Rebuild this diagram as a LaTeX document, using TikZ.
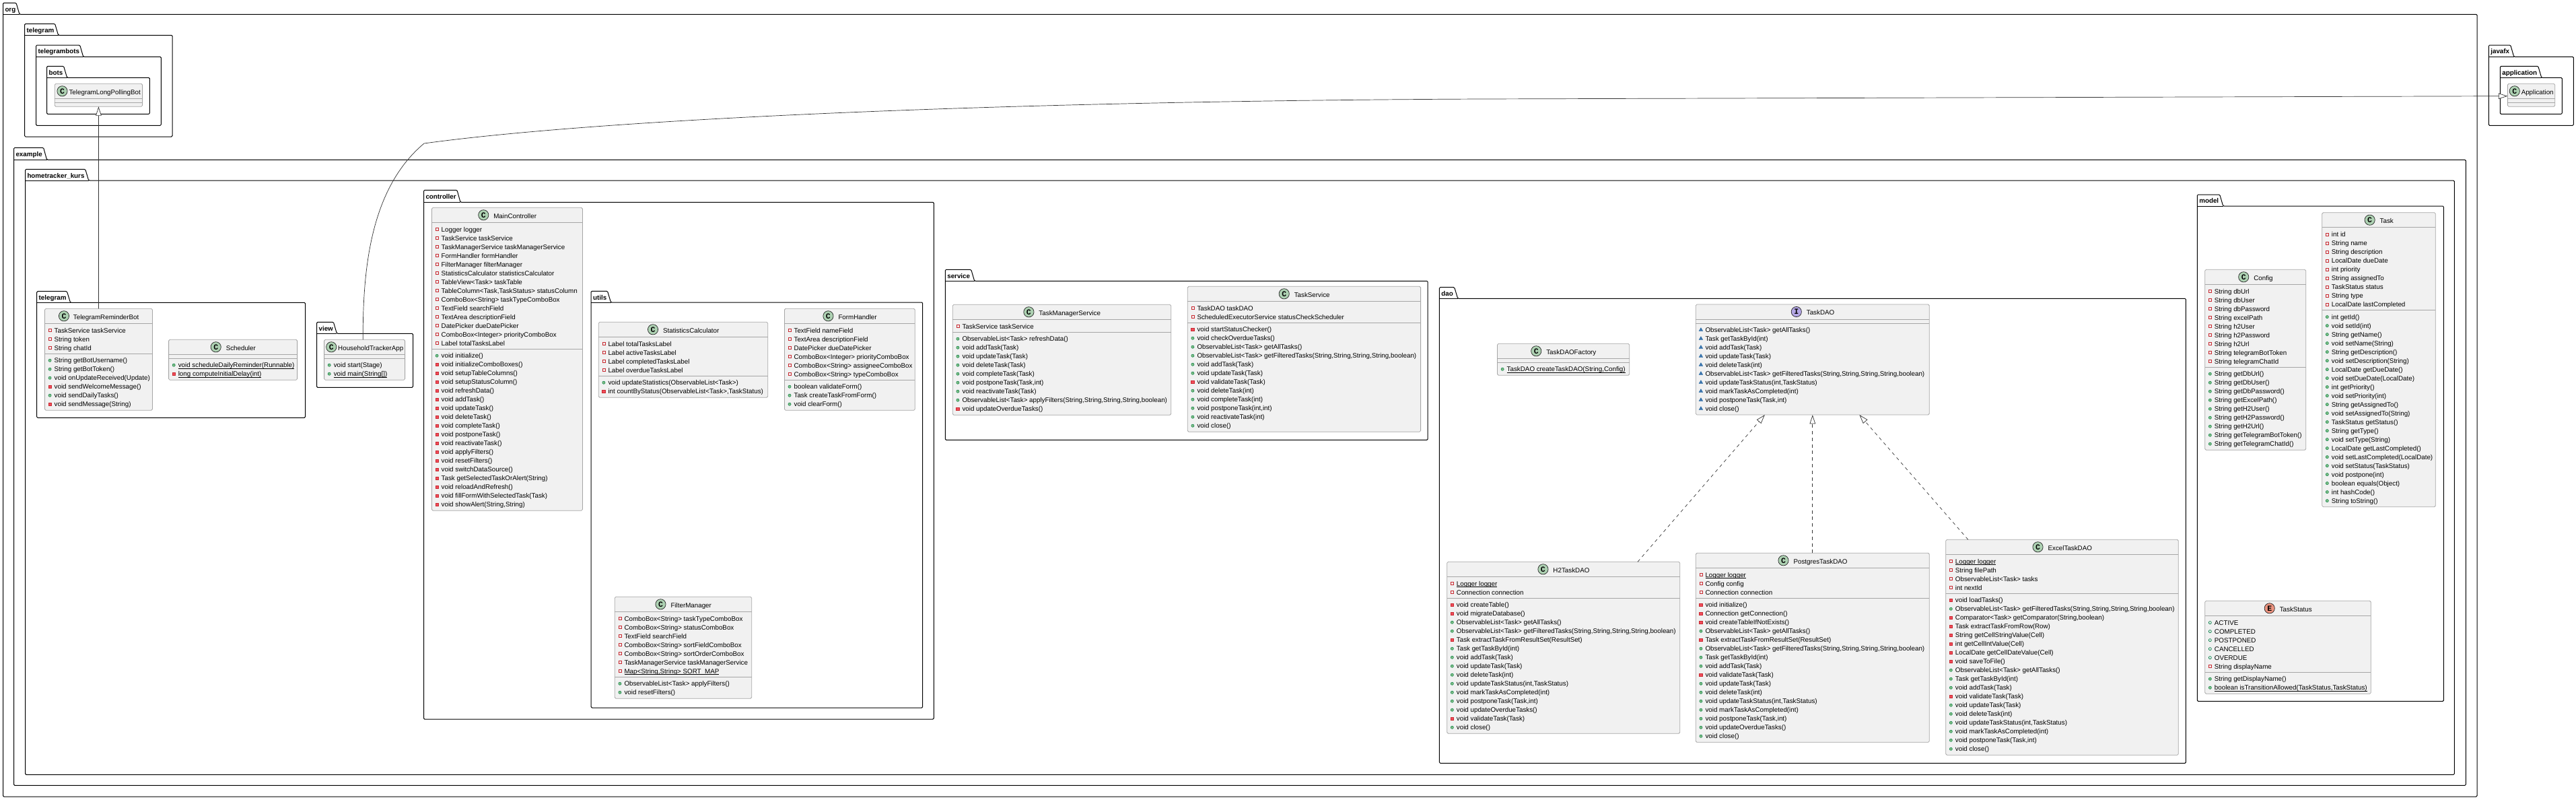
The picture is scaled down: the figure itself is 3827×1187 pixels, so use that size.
\documentclass[tikz,border=0pt]{standalone}
\usepackage{fontspec}
\setmainfont{Liberation Sans}
\newfontfamily\glyphfont{Liberation Mono}
\usepackage{xcolor}
\usetikzlibrary{arrows.meta}
\usetikzlibrary{shapes.geometric}
\definecolor{classfill}{HTML}{F1F1F1}
\definecolor{classline}{HTML}{A6A6A6}
\definecolor{linkline}{HTML}{333333}
\definecolor{privline}{HTML}{C82930}
\definecolor{privfill}{HTML}{F24D5C}
\definecolor{publine}{HTML}{038048}
\definecolor{pubfill}{HTML}{84BE84}
\definecolor{packline}{HTML}{1963A0}
\definecolor{packfill}{HTML}{4177AF}
\definecolor{circleC}{HTML}{ADD1B2}
\definecolor{circleI}{HTML}{B4A7E5}
\definecolor{circleE}{HTML}{EB937F}
\newcommand{\NameFont}{\fontsize{9.8}{13}\selectfont}
\newbox\ClassTitleBox
\newcount\AttrCount
\newcount\MethCount
\newcommand{\Under}[1]{\leavevmode\setbox0=\hbox{#1}\rlap{\vrule height -1.1pt depth 1.7pt width \wd0}\box0}
\newcommand{\RowCount}[2]{\global#1=0 \if\relax\detokenize{#2}\relax\else\foreach \rowkind/\rowtext in {#2}{\global\advance#1 by 1}\fi}
\newcommand{\RowList}[4]{\if\relax\detokenize{#4}\relax\else
  \foreach \rowkind/\rowtext [count=\ii from 0] in {#4}{
    \pgfmathsetmacro\rowy{#3+13*\ii}
    \node[Icon\rowkind] (#1-i\ii) at ({#2+7.6},\rowy) {};
    \node[RowText] (#1-t\ii) at ({#2+14},{\rowy+3.4}) {\rowtext};
  }\fi}
\newcommand{\UmlClass}[8]{
  \RowCount{\AttrCount}{#7}
  \RowCount{\MethCount}{#8}
  \pgfmathsetmacro\boxh{34+13*(\AttrCount+\MethCount)}
  \pgfmathsetmacro\sepa{#3+22}
  \pgfmathsetmacro\sepb{#3+28+13*\AttrCount}
  \node[ClassBox,minimum width={(#4-#2)*1pt},minimum height={\boxh*1pt}] (#1) at ({(#2+#4)/2},{#3+\boxh/2}) {};
  \draw[ClassLine] (#2,\sepa) -- (#4,\sepa);
  \draw[ClassLine] (#2,\sepb) -- (#4,\sepb);
  \pgfinterruptpicture\global\setbox\ClassTitleBox=\hbox{\NameFont #6}\endpgfinterruptpicture
  \pgfmathsetmacro\supp{#4-#2-21-\wd\ClassTitleBox}
  \pgfmathsetmacro\hgap{min(5.25,\supp*0.1)}
  \pgfmathsetmacro\hlead{(\supp-\hgap)/2}
  \node[Circle#5] (#1-c) at ({#2+\hlead+9.8},{#3+11}) {#5};
  \node[RowText] (#1-n) at ({#2+\hlead+21+\hgap-1.6},{#3+15.7}) {#6};
  \RowList{#1-a}{#2}{#3+32.3}{#7}
  \RowList{#1-m}{#2}{\sepb+9.9}{#8}
}
\newcommand{\UmlPackage}[8]{
  \draw[PackageLine] (#3,#5) -- (#3,#4) -- ({#8-5},#4) -- (#8,#5) -- (#6,#5) -- (#6,#7) -- (#3,#7) -- cycle;
  \draw[PackageLine] (#3,#5) -- (#8,#5);
  \node[PackageName] (#1) at ({#3+2.8},{#4+12.8}) {#2};
}
\begin{document}
\begin{tikzpicture}[x=1pt,y=-1pt]
  \tikzset{RowText/.style={anchor=base west,inner sep=0pt,font=\NameFont,text=black}};
  \tikzset{PackageName/.style={anchor=base west,inner sep=0pt,font=\NameFont\bfseries,text=black}};
  \tikzset{PackageLine/.style={draw=black,line width=1pt,rounded corners=1.4pt}};
  \tikzset{ClassBox/.style={rectangle,draw=classline,fill=classfill,line width=0.8pt,rounded corners=1.8pt,inner sep=0pt,outer sep=0pt}};
  \tikzset{ClassLine/.style={draw=classline,line width=0.8pt}};
  \tikzset{CircleBase/.style={circle,draw=black!85,line width=0.7pt,minimum size=15.2pt,inner sep=0pt,font=\glyphfont\bfseries\fontsize{11.5}{12}\selectfont}};
  \tikzset{CircleC/.style={CircleBase,fill=circleC}};
  \tikzset{CircleI/.style={CircleBase,fill=circleI}};
  \tikzset{CircleE/.style={CircleBase,fill=circleE}};
  \tikzset{Iconf/.style={rectangle,draw=privline,line width=0.7pt,minimum size=4pt,inner sep=0pt}};
  \tikzset{Iconm/.style={rectangle,draw=privline,fill=privfill,line width=0.4pt,minimum size=4.6pt,inner sep=0pt}};
  \tikzset{Iconp/.style={circle,draw=publine,fill=pubfill,line width=0.5pt,minimum size=4.2pt,inner sep=0pt}};
  \tikzset{Iconc/.style={circle,draw=publine,line width=0.7pt,minimum size=4pt,inner sep=0pt}};
  \tikzset{Icont/.style={regular polygon,regular polygon sides=3,draw=packline,fill=packfill,line width=0.4pt,minimum size=6.4pt,inner sep=0pt}};
  \tikzset{Extends/.style={draw=linkline,line width=0.7pt,-{Triangle[open,fill=white,length=13.4pt,width=8.6pt]}}};
  \tikzset{Implements/.style={Extends,dash pattern=on 4.9pt off 4.9pt}};
  \useasboundingbox (0,0) rectangle (3827,1187);

  \UmlPackage{orgPack}{org}{4.5}{4.3}{21.3}{3680}{1183}{29}
  \UmlPackage{orgTelegramPack}{telegram}{36.6}{35.3}{52.3}{256}{203}{86.6}
  \UmlPackage{telegrambotsPack}{telegrambots}{53.6}{67}{84.3}{239.3}{186.3}{123.7}
  \UmlPackage{botsPack}{bots}{69.6}{98.3}{115.3}{222.3}{169.3}{99.6}
  \UmlPackage{examplePack}{example}{20.5}{219.3}{237.3}{3663.3}{1166.3}{69.6}
  \UmlPackage{hometrackerPack}{hometracker\_kurs}{37.5}{251.3}{268}{3646.3}{1150.3}{131.7}
  \UmlPackage{telegramPack}{telegram}{54.7}{432.7}{449.3}{453.5}{620.3}{104.5}
  \UmlPackage{viewPack}{view}{470.6}{478.3}{495.3}{613.5}{575.3}{500.4}
  \UmlPackage{controllerPack}{controller}{629.5}{282.3}{300.3}{1387.3}{1068}{684}
  \UmlPackage{utilsPack}{utils}{878.2}{432.3}{449}{1370.7}{1051}{907.5}
  \UmlPackage{servicePack}{service}{1404.3}{400.3}{417.3}{2121.2}{653.3}{1447.7}
  \UmlPackage{daoPack}{dao}{2138.4}{426.7}{443.3}{3247.4}{1133.3}{2165.7}
  \UmlPackage{modelPack}{model}{3264.3}{289}{306}{3630.4}{1041.3}{3302.7}
  \UmlPackage{javafxPack}{javafx}{3697.3}{67}{84.3}{3823.3}{186.3}{3734.7}
  \UmlPackage{applicationPack}{application}{3714.3}{98.3}{115.3}{3806.3}{169.3}{3775.7}

  \UmlClass{TelegramLongPollingBot}{81.3}{124.3}{211.6}{C}{TelegramLongPollingBot}{}{}
  \UmlClass{Application}{3725.3}{124.3}{3795.7}{C}{Application}{}{}
  \UmlClass{TelegramReminderBot}{66.5}{458.3}{226.5}{C}{TelegramReminderBot}
    {f/{TaskService taskService},f/{String token},f/{String chatId}}
    {p/{String getBotUsername()},p/{String getBotToken()},p/{void onUpdateReceived(Update)},m/{void sendWelcomeMessage()},p/{void sendDailyTasks()},m/{void sendMessage(String)}}
  \UmlClass{Scheduler}{250.6}{504.3}{441.6}{C}{Scheduler}{}
    {p/{\Under{void scheduleDailyReminder(Runnable)}},m/{\Under{long computeInitialDelay(int)}}}
  \UmlClass{HouseholdTrackerApp}{481.6}{504.3}{601.6}{C}{HouseholdTrackerApp}{}
    {p/{void start(Stage)},p/{\Under{void main(String[])}}}
  \UmlClass{MainController}{641.5}{308.3}{865.4}{C}{MainController}
    {f/{Logger logger},f/{TaskService taskService},f/{TaskManagerService taskManagerService},f/{FormHandler formHandler},f/{FilterManager filterManager},f/{StatisticsCalculator statisticsCalculator},f/{TableView<Task> taskTable},f/{TableColumn<Task,TaskStatus> statusColumn},f/{ComboBox<String> taskTypeComboBox},f/{TextField searchField},f/{TextArea descriptionField},f/{DatePicker dueDatePicker},f/{ComboBox<Integer> priorityComboBox},f/{Label totalTasksLabel}}
    {p/{void initialize()},m/{void initializeComboBoxes()},m/{void setupTableColumns()},m/{void setupStatusColumn()},m/{void refreshData()},m/{void addTask()},m/{void updateTask()},m/{void deleteTask()},m/{void completeTask()},m/{void postponeTask()},m/{void reactivateTask()},m/{void applyFilters()},m/{void resetFilters()},m/{void switchDataSource()},m/{Task getSelectedTaskOrAlert(String)},m/{void reloadAndRefresh()},m/{void fillFormWithSelectedTask(Task)},m/{void showAlert(String,String)}}
  \UmlClass{StatisticsCalculator}{889.3}{478.3}{1140.7}{C}{StatisticsCalculator}
    {f/{Label totalTasksLabel},f/{Label activeTasksLabel},f/{Label completedTasksLabel},f/{Label overdueTasksLabel}}
    {p/{void updateStatistics(ObservableList<Task>)},m/{int countByStatus(ObservableList<Task>,TaskStatus)}}
  \UmlClass{FormHandler}{1165.4}{458.3}{1359.3}{C}{FormHandler}
    {f/{TextField nameField},f/{TextArea descriptionField},f/{DatePicker dueDatePicker},f/{ComboBox<Integer> priorityComboBox},f/{ComboBox<String> assigneeComboBox},f/{ComboBox<String> typeComboBox}}
    {p/{boolean validateForm()},p/{Task createTaskFromForm()},p/{void clearForm()}}
  \UmlClass{FilterManager}{913.3}{886.3}{1116.7}{C}{FilterManager}
    {f/{ComboBox<String> taskTypeComboBox},f/{ComboBox<String> statusComboBox},f/{TextField searchField},f/{ComboBox<String> sortFieldComboBox},f/{ComboBox<String> sortOrderComboBox},f/{TaskManagerService taskManagerService},f/{\Under{Map<String,String> SORT\_MAP}}}
    {p/{ObservableList<Task> applyFilters()},p/{void resetFilters()}}
  \UmlClass{TaskManagerService}{1415.3}{452.3}{1739.7}{C}{TaskManagerService}
    {f/{TaskService taskService}}
    {p/{ObservableList<Task> refreshData()},p/{void addTask(Task)},p/{void updateTask(Task)},p/{void deleteTask(Task)},p/{void completeTask(Task)},p/{void postponeTask(Task,int)},p/{void reactivateTask(Task)},p/{ObservableList<Task> applyFilters(String,String,String,String,boolean)},m/{void updateOverdueTasks()}}
  \UmlClass{TaskService}{1764.3}{425.3}{2110.6}{C}{TaskService}
    {f/{TaskDAO taskDAO},f/{ScheduledExecutorService statusCheckScheduler}}
    {m/{void startStatusChecker()},p/{void checkOverdueTasks()},p/{ObservableList<Task> getAllTasks()},p/{ObservableList<Task> getFilteredTasks(String,String,String,String,boolean)},p/{void addTask(Task)},p/{void updateTask(Task)},m/{void validateTask(Task)},p/{void deleteTask(int)},p/{void completeTask(int)},p/{void postponeTask(int,int)},p/{void reactivateTask(int)},p/{void close()}}
  \UmlClass{TaskDAOFactory}{2224.5}{510.3}{2420.7}{C}{TaskDAOFactory}{}
    {p/{\Under{TaskDAO createTaskDAO(String,Config)}}}
  \UmlClass{TaskDAO}{2519.3}{452}{2866.3}{I}{TaskDAO}{}
    {t/{ObservableList<Task> getAllTasks()},t/{Task getTaskById(int)},t/{void addTask(Task)},t/{void updateTask(Task)},t/{void deleteTask(int)},t/{ObservableList<Task> getFilteredTasks(String,String,String,String,boolean)},t/{void updateTaskStatus(int,TaskStatus)},t/{void markTaskAsCompleted(int)},t/{void postponeTask(Task,int)},t/{void close()}}
  \UmlClass{H2TaskDAO}{2149.7}{834.3}{2495.7}{C}{H2TaskDAO}
    {f/{\Under{Logger logger}},f/{Connection connection}}
    {m/{void createTable()},m/{void migrateDatabase()},p/{ObservableList<Task> getAllTasks()},p/{ObservableList<Task> getFilteredTasks(String,String,String,String,boolean)},m/{Task extractTaskFromResultSet(ResultSet)},p/{Task getTaskById(int)},p/{void addTask(Task)},p/{void updateTask(Task)},p/{void deleteTask(int)},p/{void updateTaskStatus(int,TaskStatus)},p/{void markTaskAsCompleted(int)},p/{void postponeTask(Task,int)},p/{void updateOverdueTasks()},m/{void validateTask(Task)},p/{void close()}}
  \UmlClass{PostgresTaskDAO}{2519.3}{821.3}{2866.3}{C}{PostgresTaskDAO}
    {f/{\Under{Logger logger}},f/{Config config},f/{Connection connection}}
    {m/{void initialize()},m/{Connection getConnection()},m/{void createTableIfNotExists()},p/{ObservableList<Task> getAllTasks()},m/{Task extractTaskFromResultSet(ResultSet)},p/{ObservableList<Task> getFilteredTasks(String,String,String,String,boolean)},p/{Task getTaskById(int)},p/{void addTask(Task)},m/{void validateTask(Task)},p/{void updateTask(Task)},p/{void deleteTask(int)},p/{void updateTaskStatus(int,TaskStatus)},p/{void markTaskAsCompleted(int)},p/{void postponeTask(Task,int)},p/{void updateOverdueTasks()},p/{void close()}}
  \UmlClass{ExcelTaskDAO}{2890.7}{801.3}{3236.3}{C}{ExcelTaskDAO}
    {f/{\Under{Logger logger}},f/{String filePath},f/{ObservableList<Task> tasks},f/{int nextId}}
    {m/{void loadTasks()},p/{ObservableList<Task> getFilteredTasks(String,String,String,String,boolean)},m/{Comparator<Task> getComparator(String,boolean)},m/{Task extractTaskFromRow(Row)},m/{String getCellStringValue(Cell)},m/{int getCellIntValue(Cell)},m/{LocalDate getCellDateValue(Cell)},m/{void saveToFile()},p/{ObservableList<Task> getAllTasks()},p/{Task getTaskById(int)},p/{void addTask(Task)},m/{void validateTask(Task)},p/{void updateTask(Task)},p/{void deleteTask(int)},p/{void updateTaskStatus(int,TaskStatus)},p/{void markTaskAsCompleted(int)},p/{void postponeTask(Task,int)},p/{void close()}}
  \UmlClass{Config}{3275.7}{400.3}{3425.7}{C}{Config}
    {f/{String dbUrl},f/{String dbUser},f/{String dbPassword},f/{String excelPath},f/{String h2User},f/{String h2Password},f/{String h2Url},f/{String telegramBotToken},f/{String telegramChatId}}
    {p/{String getDbUrl()},p/{String getDbUser()},p/{String getDbPassword()},p/{String getExcelPath()},p/{String getH2User()},p/{String getH2Password()},p/{String getH2Url()},p/{String getTelegramBotToken()},p/{String getTelegramChatId()}}
  \UmlClass{Task}{3449.7}{315.7}{3618.3}{C}{Task}
    {f/{int id},f/{String name},f/{String description},f/{LocalDate dueDate},f/{int priority},f/{String assignedTo},f/{TaskStatus status},f/{String type},f/{LocalDate lastCompleted}}
    {p/{int getId()},p/{void setId(int)},p/{String getName()},p/{void setName(String)},p/{String getDescription()},p/{void setDescription(String)},p/{LocalDate getDueDate()},p/{void setDueDate(LocalDate)},p/{int getPriority()},p/{void setPriority(int)},p/{String getAssignedTo()},p/{void setAssignedTo(String)},p/{TaskStatus getStatus()},p/{String getType()},p/{void setType(String)},p/{LocalDate getLastCompleted()},p/{void setLastCompleted(LocalDate)},p/{void setStatus(TaskStatus)},p/{void postpone(int)},p/{boolean equals(Object)},p/{int hashCode()},p/{String toString()}}
  \UmlClass{TaskStatus}{3275.7}{892.3}{3522.3}{E}{TaskStatus}
    {c/{ACTIVE},c/{COMPLETED},c/{POSTPONED},c/{CANCELLED},c/{OVERDUE},f/{String displayName}}
    {p/{String getDisplayName()},p/{\Under{boolean isTransitionAllowed(TaskStatus,TaskStatus)}}}

  \draw[Extends] (TelegramReminderBot.north) -- (TelegramLongPollingBot.south);
  \draw[Extends] ([xshift=-2.4pt]HouseholdTrackerApp.north) .. controls (539,400) and (550,280) .. (630,213) .. controls (900,176) and (1500,150) .. (2200,147) -- ([yshift=-1.4pt]Application.west);
  \draw[Implements] ([xshift=110.3pt]H2TaskDAO.north) -- ([xshift=-71pt]TaskDAO.south);
  \draw[Implements] (PostgresTaskDAO.north) -- (TaskDAO.south);
  \draw[Implements] ([xshift=-139.7pt]ExcelTaskDAO.north) -- ([xshift=69.6pt]TaskDAO.south);
\end{tikzpicture}
\end{document}
